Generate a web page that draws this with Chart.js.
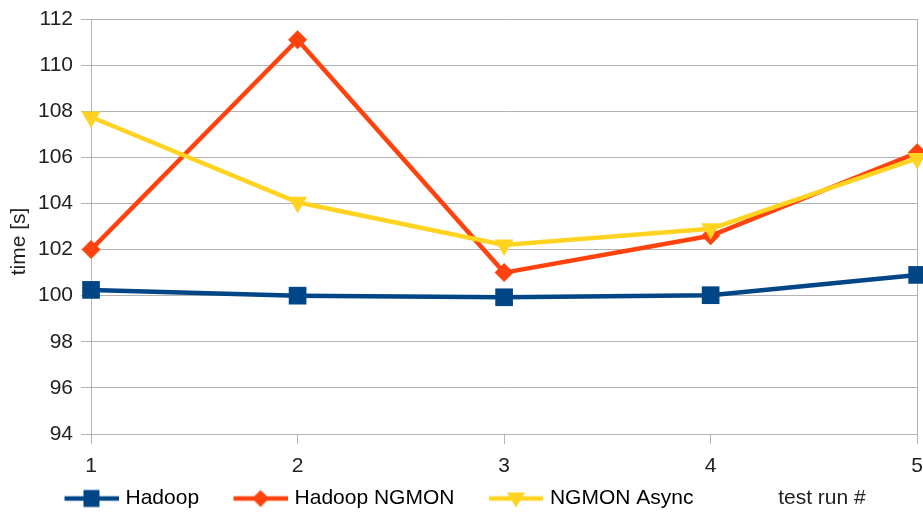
<!DOCTYPE html>
<html>
<head>
<meta charset="utf-8">
<script src="https://cdn.jsdelivr.net/npm/chart.js@4/dist/chart.umd.min.js"></script>
<style>
  html, body { margin: 0; padding: 0; background: #ffffff; overflow: hidden; }
  #wrap { position: relative; width: 923px; height: 512px; }
</style>
</head>
<body>
<div id="wrap"><canvas id="c"></canvas></div>
<script>
// ---- data ----
const categories = ['1', '2', '3', '4', '5'];
const seriesNames = ['Hadoop', 'Hadoop NGMON', 'NGMON Async'];
const hadoop = [100.25, 100.0, 99.93, 100.02, 100.9];
const hadoopNgmon = [102.0, 111.1, 101.0, 102.6, 106.2];
const ngmonAsync = [107.75, 104.05, 102.2, 102.9, 105.95];
const yMin = 94, yMax = 112, yStep = 2;
const yTitle = 'time [s]';
const xTitle = 'test run #';

// ---- styling ----
const colors = ['#004586', '#ff420e', '#ffd320'];
const markers = ['rect', 'rectRot', 'triangle'];
const markerRadius = [12.5, 9.5, 11];
const markerRotation = [0, 0, 180];
const FONT = '"Liberation Sans", Arial, sans-serif';
const gridColor = '#b3b3b3';
const textColor = '#222';

function legendImage(color, marker) {
  const c = document.createElement('canvas');
  c.width = 92; c.height = 22;
  const g = c.getContext('2d');
  const cy = 11, cx = 65;
  g.strokeStyle = color; g.lineWidth = 4.5;
  g.beginPath(); g.moveTo(38, cy); g.lineTo(92, cy); g.stroke();
  g.fillStyle = color;
  g.beginPath();
  if (marker === 'rect') {
    g.rect(cx - 8, cy - 8.5, 16, 17);
  } else if (marker === 'rectRot') {
    g.moveTo(cx, cy - 8.5); g.lineTo(cx + 8.5, cy); g.lineTo(cx, cy + 8.5); g.lineTo(cx - 8.5, cy);
  } else {
    g.moveTo(cx - 9, cy - 6); g.lineTo(cx + 9, cy - 6); g.lineTo(cx, cy + 9);
  }
  g.closePath(); g.fill();
  return c;
}

const seriesData = [hadoop, hadoopNgmon, ngmonAsync];
const datasets = seriesData.map((d, i) => ({
  label: seriesNames[i],
  data: d,
  borderColor: colors[i],
  backgroundColor: colors[i],
  borderWidth: 4.5,
  tension: 0,
  pointStyle: markers[i],
  pointRadius: markerRadius[i],
  pointHoverRadius: markerRadius[i],
  pointRotation: markerRotation[i],
  pointBorderWidth: 0,
  pointBackgroundColor: colors[i],
  clip: false,
  order: 3 - i
}));
const legendImages = seriesData.map((d, i) => legendImage(colors[i], markers[i]));

// axis titles drawn in the positions the original layout uses
const axisTitlesPlugin = {
  id: 'axisTitles',
  afterDraw(chart) {
    const ctx = chart.ctx;
    const a = chart.chartArea;
    const lg = chart.legend;
    ctx.save();
    ctx.font = '21px ' + FONT;
    ctx.fillStyle = textColor;
    ctx.textBaseline = 'middle';
    // x title on the legend row
    ctx.textAlign = 'left';
    ctx.fillText(xTitle, a.right - 139, lg.top + 10.5);
    // y title, rotated
    ctx.translate(a.left - 71.5, (a.top + a.bottom) / 2 + 15);
    ctx.rotate(-Math.PI / 2);
    ctx.textAlign = 'center';
    ctx.fillText(yTitle, 0, 0);
    ctx.restore();
  }
};

new Chart(document.getElementById('c'), {
  type: 'line',
  data: { labels: categories, datasets },
  plugins: [axisTitlesPlugin],
  options: {
    responsive: true,
    maintainAspectRatio: false,
    animation: false,
    layout: { autoPadding: false, padding: { left: 30, top: 19, right: 0, bottom: 3 } },
    plugins: {
      tooltip: { enabled: false },
      legend: {
        position: 'bottom',
        align: 'start',
        maxHeight: 21,
        labels: {
          usePointStyle: true,
          pointStyleWidth: 85,
          padding: 0,
          color: textColor,
          font: { family: FONT, size: 21 },
          generateLabels: (chart) => chart.data.datasets.map((ds, i) => ({
            text: ds.label,
            fillStyle: ds.borderColor,
            strokeStyle: ds.borderColor,
            lineWidth: 0,
            pointStyle: legendImages[i],
            hidden: false,
            datasetIndex: i
          }))
        }
      }
    },
    scales: {
      x: {
        type: 'category',
        offset: false,
        grid: {
          color: (ctx) => (ctx.index === 0 || ctx.index === categories.length - 1) ? gridColor : 'rgba(0,0,0,0)',
          tickColor: gridColor,
          tickLength: 10,
          lineWidth: 1
        },
        border: { display: true, color: gridColor },
        ticks: { color: textColor, padding: 0, maxRotation: 0, font: { family: FONT, size: 21, lineHeight: '44px' } }
      },
      y: {
        min: yMin,
        max: yMax,
        grid: { color: gridColor, tickColor: gridColor, tickLength: 10, lineWidth: 1 },
        border: { display: true, color: gridColor },
        ticks: { stepSize: yStep, color: textColor, padding: 8, font: { family: FONT, size: 21, lineHeight: 1 } }
      }
    }
  }
});
</script>
</body>
</html>
